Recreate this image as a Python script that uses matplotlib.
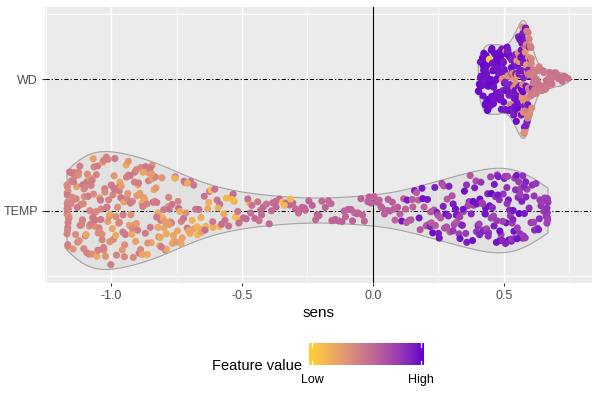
import numpy as np
import matplotlib
matplotlib.use("Agg")
import matplotlib.pyplot as plt
from matplotlib.colors import ListedColormap

# ---------------- data ----------------
features = ["TEMP", "WD"]
tick_values = [-1.0, -0.5, 0.0, 0.5]
tick_labels = ["-1.0", "-0.5", "0.0", "0.5"]
legend_labels = ["Low", "High"]

temp_sens = [
    -1.168,-1.167,-1.166,-1.168,-1.165,-1.167,-1.164,-1.166,-1.168,-1.163,-1.165,-1.167,-1.166,-1.162,-1.168,-1.164,-1.160,-1.166,-1.158,-1.167,
    -1.152,-1.148,-1.145,-1.141,-1.138,-1.135,-1.131,-1.127,-1.124,-1.121,-1.118,-1.115,-1.112,-1.109,-1.106,-1.104,-1.102,-1.150,
    -1.098,-1.095,-1.092,-1.090,-1.087,-1.084,-1.081,-1.079,-1.076,-1.073,-1.070,-1.068,-1.065,-1.062,-1.060,-1.057,-1.054,-1.051,-1.049,-1.046,-1.043,-1.040,-1.038,-1.035,-1.032,-1.029,-1.027,-1.024,-1.021,-1.018,-1.015,-1.012,-1.009,-1.006,-1.004,-1.001,
    -0.998,-0.995,-0.991,-0.988,-0.985,-0.982,-0.979,-0.975,-0.972,-0.969,-0.966,-0.963,-0.960,-0.957,-0.954,-0.951,-0.948,-0.945,-0.942,-0.939,-0.936,-0.933,-0.930,-0.927,-0.924,-0.921,-0.918,-0.915,-0.912,-0.909,-0.906,-0.903,-0.901,
    -0.897,-0.893,-0.890,-0.886,-0.882,-0.879,-0.875,-0.872,-0.868,-0.864,-0.861,-0.857,-0.854,-0.850,-0.846,-0.843,-0.839,-0.836,-0.832,-0.828,-0.825,-0.821,-0.818,-0.814,-0.810,-0.806,-0.803,
    -0.797,-0.792,-0.788,-0.783,-0.778,-0.774,-0.769,-0.765,-0.760,-0.755,-0.751,-0.746,-0.742,-0.737,-0.732,-0.728,-0.723,-0.718,-0.714,-0.709,-0.704,
    -0.696,-0.690,-0.683,-0.677,-0.670,-0.664,-0.657,-0.651,-0.644,-0.638,-0.631,-0.624,-0.618,-0.611,-0.604,
    -0.595,-0.586,-0.578,-0.569,-0.560,-0.551,-0.543,-0.534,-0.525,-0.516,-0.507,
    -0.495,-0.484,-0.473,-0.462,-0.451,-0.440,-0.429,-0.418,-0.407,
    -0.396,-0.383,-0.370,-0.357,-0.345,-0.332,-0.319,-0.306,
    -0.296,-0.284,-0.271,-0.258,-0.245,-0.232,-0.219,-0.206,
    -0.195,-0.182,-0.170,-0.157,-0.144,-0.131,-0.118,-0.105,
    -0.096,-0.084,-0.071,-0.058,-0.046,-0.033,-0.020,-0.008,
    0.004,0.014,0.024,0.034,0.044,0.054,0.064,0.074,0.084,0.094,
    0.103,0.110,0.117,0.124,0.131,0.138,0.145,0.152,0.159,0.166,0.173,0.180,0.187,0.195,
    0.203,0.208,0.213,0.218,0.223,0.228,0.233,0.238,0.243,0.248,0.253,0.258,0.263,0.268,0.273,0.278,0.283,0.288,0.294,
    0.302,0.306,0.310,0.315,0.319,0.323,0.328,0.332,0.336,0.341,0.345,0.349,0.354,0.358,0.362,0.367,0.371,0.375,0.380,0.384,0.388,0.393,0.397,
    0.401,0.405,0.408,0.412,0.416,0.419,0.423,0.427,0.430,0.434,0.438,0.441,0.445,0.449,0.452,0.456,0.460,0.463,0.467,0.471,0.474,0.478,0.482,0.485,0.489,0.493,0.497,
    0.501,0.504,0.508,0.511,0.514,0.518,0.521,0.524,0.528,0.531,0.534,0.538,0.541,0.544,0.548,0.551,0.554,0.558,0.561,0.564,0.568,0.571,0.574,0.578,0.581,0.584,0.588,
    0.603,0.608,0.613,0.617,0.622,0.627,0.632,0.637,0.641,0.646,
    0.652,0.656,0.659,0.661,0.663,0.664,0.665,0.666,0.667,0.668,0.666,0.664,
    -1.165,-1.161,-1.156,-1.153,-1.147,-1.143,-1.139,-1.133,-1.129,-1.125,-1.119,-1.113,-1.108,-1.103,-1.097,-1.093,-1.088,-1.083,-1.078,-1.072,
    -1.067,-1.061,-1.056,-1.050,-1.045,-1.039,-1.034,-1.028,-1.023,-1.017,-1.011,-1.005,-0.999,-0.993,-0.987,-0.981,-0.974,-0.968,-0.961,-0.955,
    -0.949,-0.941,-0.934,-0.926,-0.919,-0.911,-0.903,-0.895,-0.887,-0.878,-0.869,-0.860,-0.851,-0.841,-0.831,-0.820,-0.808,-0.795,-0.780,-0.762,
    -0.585,-0.530,-0.478,-0.425,-0.372,-0.315,-0.262,-0.213,-0.160,-0.110,-0.060,-0.015,0.030,0.080,
    0.150,0.190,0.220,0.250,0.270,0.290,
    0.305,0.318,0.331,0.344,0.357,0.369,0.382,0.395,0.407,0.418,0.429,0.440,0.451,0.462,0.473,0.484,0.495,0.506,0.517,0.528,0.539,0.550,0.561,0.572,0.583,
    -0.898,-0.880,-0.863,-0.845,-0.826,-0.812,
    -0.799,-0.789,-0.778,-0.767,-0.756,-0.744,-0.733,-0.721,-0.708,
    -0.698,-0.684,-0.671,-0.655,-0.641,-0.627,-0.612,
    -0.592,-0.565,-0.538,-0.512,-0.467,-0.435,-0.388,-0.338,
    -0.078,-0.040,0.058,0.128,0.176,0.236,0.281,0.476,
    0.512,0.535,0.556,0.577,0.596,0.615,0.635,0.655,
]
temp_feat = [
    .40,.38,.42,.36,.44,.40,.33,.46,.38,.41,.35,.43,.39,.45,.37,.42,.30,.40,.36,.44,
    .38,.42,.30,.40,.45,.36,.25,.41,.39,.33,.44,.38,.28,.42,.36,.40,.34,.43,
    .40,.22,.44,.36,.30,.45,.38,.26,.42,.34,.47,.24,.39,.43,.31,.37,.20,.45,.35,.41,.28,.46,.38,.33,.23,.42,.36,.44,.30,.39,.47,.27,.41,.35,.21,.43,
    .45,.22,.38,.30,.47,.18,.40,.34,.26,.44,.20,.37,.48,.28,.42,.24,.35,.46,.19,.39,.31,.43,.25,.47,.33,.21,.41,.36,.27,.45,.23,.38,.30,
    .20,.46,.26,.38,.17,.44,.30,.22,.48,.35,.19,.41,.27,.45,.23,.33,.50,.18,.40,.28,.46,.21,.36,.24,.47,.30,.19,
    .22,.48,.18,.30,.50,.20,.44,.25,.16,.47,.28,.21,.52,.19,.40,.24,.49,.17,.33,.46,.21,
    .50,.15,.22,.48,.12,.52,.18,.25,.50,.14,.20,.47,.10,.17,.50,
    .48,.12,.52,.18,.10,.50,.15,.53,.09,.48,.14,
    .52,.55,.10,.50,.54,.48,.53,.56,.51,
    .54,.52,.56,.55,.08,.53,.57,.55,
    .55,.53,.57,.54,.56,.58,.55,.57,
    .56,.58,.55,.57,.59,.56,.58,.57,
    .57,.59,.56,.58,.60,.57,.59,.58,
    .58,.60,.57,.59,.61,.58,.62,.60,.59,.61,
    .60,.95,.62,.58,.93,.61,.63,.59,.96,.62,.60,.64,.94,.61,
    .63,.94,.65,.90,.62,.97,.66,.64,.92,.68,.95,.63,.70,.91,.66,.96,.64,.88,.67,
    .68,.93,.72,.96,.65,.88,.75,.95,.70,.90,.67,.97,.78,.92,.71,.94,.66,.89,.96,.74,.91,.69,.95,
    .92,.75,.96,.82,.70,.94,.88,.78,.97,.73,.90,.84,.95,.76,.99,.86,.72,.93,.80,.96,.77,.91,.85,.98,.74,.89,.81,
    .90,.78,.95,.83,.74,.97,.86,.80,.92,.76,.88,.96,.79,.84,.93,.77,.87,.99,.81,.75,.91,.85,.78,.94,.80,.88,.76,
    .78,.84,.75,.88,.80,.76,.92,.79,.83,.77,
    .78,.80,.76,.82,.79,.77,.81,.78,.75,.80,.79,.83,
    .42,.38,.45,.40,.36,.44,.41,.39,.47,.35,.43,.40,.46,.37,.42,.38,.45,.33,.41,.44,
    .36,.48,.40,.43,.34,.46,.39,.42,.37,.45,.41,.32,.44,.39,.47,.36,.43,.40,.28,.45,
    .38,.42,.30,.46,.35,.41,.26,.44,.37,.22,.43,.30,.47,.24,.40,.20,.45,.27,.38,.22,
    .50,.16,.52,.55,.53,.12,.56,.57,.55,.58,.57,.59,.60,.58,
    .62,.95,.64,.92,.66,.90,
    .80,.93,.76,.95,.84,.72,.97,.82,.90,.78,.95,.86,.74,.92,.80,.97,.76,.88,.93,.79,.85,.96,.77,.83,.90,
    .44,.22,.40,.28,.46,.20,
    .45,.18,.26,.48,.15,.40,.22,.50,.19,
    .20,.48,.14,.24,.51,.17,.46,
    .16,.50,.12,.52,.53,.49,.55,.13,
    .58,.57,.60,.61,.94,.92,.65,.93,
    .82,.95,.79,.88,.84,.80,.86,.78,
]

wd_sens = [
    0.402,0.404,0.406,0.408,
    0.410,0.411,0.412,0.413,0.414,0.415,0.416,0.418,0.419,
    0.420,0.421,0.422,0.423,0.424,0.425,0.426,0.427,0.428,0.429,
    0.430,0.431,0.432,0.433,0.434,0.435,0.436,0.437,0.438,0.439,
    0.440,0.441,0.442,0.443,0.444,0.445,0.446,0.447,0.448,0.449,
    0.450,0.451,0.452,0.453,0.454,0.455,0.456,0.457,0.458,0.459,
    0.460,0.461,0.462,0.463,0.464,0.465,0.466,0.467,0.468,0.469,
    0.470,0.471,0.472,0.473,0.474,0.475,0.476,0.477,0.478,0.479,
    0.480,0.481,0.482,0.483,0.484,0.485,0.486,0.487,0.488,0.489,
    0.490,0.491,0.492,0.493,0.494,0.495,0.496,0.497,0.498,0.499,
    0.501,0.502,0.503,0.504,0.505,0.506,0.507,0.508,0.509,
    0.510,0.511,0.512,0.513,0.514,0.515,0.516,0.517,0.518,0.519,
    0.520,0.521,0.522,0.523,0.524,0.525,0.526,0.527,0.528,0.529,0.529,
    0.530,0.531,0.532,0.533,0.534,0.535,0.536,0.537,0.537,0.538,0.539,0.539,
    0.540,0.541,0.542,0.542,0.543,0.544,0.545,0.546,0.547,0.547,0.548,0.549,0.549,
    0.550,0.551,0.551,0.552,0.553,0.554,0.554,0.555,0.556,0.557,0.557,0.558,0.559,0.559,0.553,
    0.560,0.561,0.561,0.562,0.563,0.563,0.564,0.565,0.565,0.566,0.567,0.567,0.568,0.569,0.569,0.562,0.566,
    0.570,0.570,0.571,0.572,0.572,0.573,0.574,0.574,0.575,0.576,0.576,0.577,0.578,0.578,0.579,0.579,0.571,0.575,
    0.580,0.580,0.581,0.582,0.582,0.583,0.584,0.584,0.585,0.586,0.586,0.587,0.588,0.588,0.589,0.583,0.587,
    0.590,0.591,0.591,0.592,0.593,0.594,0.594,0.595,0.596,0.597,0.597,0.598,0.599,0.592,0.596,
    0.600,0.601,0.602,0.603,0.604,0.605,0.606,0.607,0.608,0.609,0.604,
    0.611,0.612,0.614,0.615,0.616,0.618,0.619,
    0.621,0.623,0.625,0.627,0.629,
    0.631,0.634,0.636,0.639,
    0.642,0.645,0.648,
    0.652,0.655,0.658,
    0.662,0.665,0.668,
    0.672,0.675,0.678,
    0.683,0.687,
    0.692,0.697,
    0.703,0.707,
    0.712,0.717,
    0.722,0.727,
    0.734,
    0.745,
]
wd_feat = [
    .97,.98,.96,.99,
    .98,.96,.99,.97,.98,.95,.97,.99,.96,
    .97,.99,.96,.98,.97,.99,.96,.98,.95,.97,
    .98,.96,.99,.97,.98,.95,.99,.97,.96,.98,
    .97,.99,.96,.98,.02,.97,.99,.96,.98,.95,
    .98,.97,.99,.96,.98,.03,.96,.98,.97,.99,
    .97,.96,.99,.98,.97,.95,.98,.96,.99,.97,
    .99,.97,.96,.98,.94,.97,.99,.96,.95,.98,
    .97,.95,.98,.96,.99,.93,.97,.95,.98,.96,
    .96,.92,.98,.30,.95,.97,.90,.99,.94,.97,
    .93,.97,.95,.95,.90,.98,.35,.94,.96,
    .92,.96,.96,.98,.33,.94,.97,.93,.95,.91,
    .97,.94,.94,.90,.36,.98,.93,.96,.96,.34,.92,
    .95,.95,.92,.34,.97,.91,.91,.38,.96,.93,.93,.98,
    .94,.32,.97,.95,.90,.96,.95,.30,.98,.92,.93,.96,.29,
    .93,.96,.27,.93,.98,.98,.31,.91,.95,.97,.29,.94,.36,.90,.96,
    .95,.30,.97,.94,.92,.28,.96,.37,.93,.96,.98,.26,.94,.35,.90,.93,.96,
    .29,.96,.34,.93,.97,.98,.36,.91,.31,.95,.39,.92,.96,.97,.33,.94,.37,.90,
    .35,.93,.30,.97,.38,.91,.33,.95,.40,.28,.96,.36,.92,.42,.31,.94,.37,
    .39,.95,.34,.42,.90,.37,.31,.44,.93,.36,.40,.33,.88,.45,.38,
    .41,.36,.92,.44,.39,.45,.34,.42,.89,.43,.38,
    .43,.47,.41,.48,.45,.42,.46,
    .44,.48,.42,.49,.45,
    .46,.43,.48,.45,
    .47,.44,.49,
    .46,.49,.47,
    .49,.46,.50,
    .47,.50,.48,
    .49,.47,
    .48,.50,
    .47,.49,
    .49,.51,
    .50,.48,
    .49,
    .48,
]

# ---------------- colour scale: gradient in Lab space ----------------
def _hex2rgb(h):
    h = h.lstrip("#")
    return np.array([int(h[i:i + 2], 16) for i in (0, 2, 4)]) / 255.0

_M = np.array([[0.4124564, 0.3575761, 0.1804375],
               [0.2126729, 0.7151522, 0.0721750],
               [0.0193339, 0.1191920, 0.9503041]])
_WHITE = np.array([0.95047, 1.0, 1.08883])

def _rgb2lab(rgb):
    lin = np.where(rgb <= 0.04045, rgb / 12.92, ((rgb + 0.055) / 1.055) ** 2.4)
    xyz = _M @ lin / _WHITE
    f = np.where(xyz > 0.008856, np.cbrt(xyz), 7.787 * xyz + 16 / 116)
    return np.array([116 * f[1] - 16, 500 * (f[0] - f[1]), 200 * (f[1] - f[2])])

def _lab2rgb(lab):
    fy = (lab[0] + 16) / 116
    fx = fy + lab[1] / 500
    fz = fy - lab[2] / 200
    f = np.array([fx, fy, fz])
    xyz = np.where(f ** 3 > 0.008856, f ** 3, (f - 16 / 116) / 7.787) * _WHITE
    lin = np.linalg.solve(_M, xyz)
    lin = np.clip(lin, 0, 1)
    rgb = np.where(lin <= 0.0031308, 12.92 * lin, 1.055 * lin ** (1 / 2.4) - 0.055)
    return np.clip(rgb, 0, 1)

low_lab = _rgb2lab(_hex2rgb("#FFCC33"))
high_lab = _rgb2lab(_hex2rgb("#6600CC"))
cmap = ListedColormap([_lab2rgb(low_lab + (high_lab - low_lab) * t)
                       for t in np.linspace(0, 1, 256)])

# ---------------- violin helpers ----------------
def kde(x, grid, bw):
    x = np.asarray(x)
    d = np.exp(-0.5 * ((grid[:, None] - x[None, :]) / bw) ** 2).sum(axis=1)
    return d / (len(x) * bw * np.sqrt(2 * np.pi))

plt.rcParams["font.family"] = ["Liberation Sans", "DejaVu Sans"]
plt.rcParams["lines.scale_dashes"] = False

fig = plt.figure(figsize=(6, 4), dpi=100)
ax = fig.add_axes([45 / 600, 1 - 283 / 400, 547 / 600, 276 / 400])
ax.set_facecolor("#EBEBEB")
for s in ax.spines.values():
    s.set_visible(False)

xlim = (-1.252, 0.836)
ylim = (0.447, 2.553)
ax.set_xlim(*xlim)
ax.set_ylim(*ylim)

# grid
for v in tick_values:
    ax.axvline(v, color="white", lw=1.05, zorder=0)
for v in [-1.25, -0.75, -0.25, 0.25, 0.75]:
    ax.axvline(v, color="white", lw=0.55, zorder=0)
for v in [0.5, 2.5]:
    ax.axhline(v, color="white", lw=0.9, zorder=0)

datasets = {"TEMP": (temp_sens, temp_feat, 0.095), "WD": (wd_sens, wd_feat, 0.012)}
half_max = 0.45
for pos, name in enumerate(features, start=1):
    xs, fv, bw = datasets[name]
    xs = np.asarray(xs)
    grid = np.linspace(xs.min(), xs.max(), 400)
    d = kde(xs, grid, bw)
    hw = half_max * d / d.max()
    ax.fill_between(grid, pos - hw, pos + hw, facecolor="#D6D6D6", alpha=0.45,
                    edgecolor="none", zorder=1)
    ax.plot(np.r_[grid, grid[::-1], grid[0]],
            np.r_[pos + hw, (pos - hw)[::-1], pos + hw[0]],
            color="#A3A3A3", lw=0.8, zorder=1.5)
    ax.axhline(pos, color="black", lw=0.75, dashes=(3.0, 1.5, 0.8, 1.5), zorder=2)
    # sina-style vertical spread inside the violin (layout only, deterministic)
    idx = np.arange(len(xs))
    u = 2 * ((np.sin(idx * 12.9898 + pos * 78.233) * 43758.5453) % 1.0) - 1
    ph = np.interp(xs, grid, hw)
    ys = pos + 0.93 * u * ph
    ax.scatter(xs, ys, c=fv, cmap=cmap, vmin=0, vmax=1, s=26, linewidths=0, zorder=3)

ax.axvline(0, color="black", lw=0.8, zorder=2.5)

ax.set_xticks(tick_values)
ax.set_xticklabels(tick_labels)
ax.set_yticks([1, 2])
ax.set_yticklabels(features)
ax.tick_params(axis="both", colors="#333333", length=2.5, width=0.8,
               labelsize=9, labelcolor="#4D4D4D", pad=2.5)
ax.set_xlabel("sens", fontsize=11, color="black", labelpad=3)

# colour bar legend
cax = fig.add_axes([309 / 600, 1 - 365 / 400, 114 / 600, 22 / 400])
grad = np.linspace(-0.0275, 1.018, 256)[None, :]
cax.imshow(grad, aspect="auto", cmap=cmap, vmin=0, vmax=1,
           extent=(-0.0275, 1.018, 0, 1))
cax.set_xlim(-0.0275, 1.018)
cax.set_ylim(0, 1)
for s in cax.spines.values():
    s.set_visible(False)
cax.set_xticks([])
cax.set_yticks([])
for v in (0.0, 1.0):
    cax.plot([v, v], [0, 0.2], color="white", lw=0.9)
    cax.plot([v, v], [0.8, 1], color="white", lw=0.9)
fig.text(312 / 600, 1 - 380 / 400, legend_labels[0], ha="center", va="center",
         fontsize=9, color="black")
fig.text(421 / 600, 1 - 380 / 400, legend_labels[1], ha="center", va="center",
         fontsize=9, color="black")
fig.text(302 / 600, 1 - 366 / 400, "Feature value", ha="right", va="center",
         fontsize=10.5, color="black")

fig.savefig("out.png", dpi=100)
